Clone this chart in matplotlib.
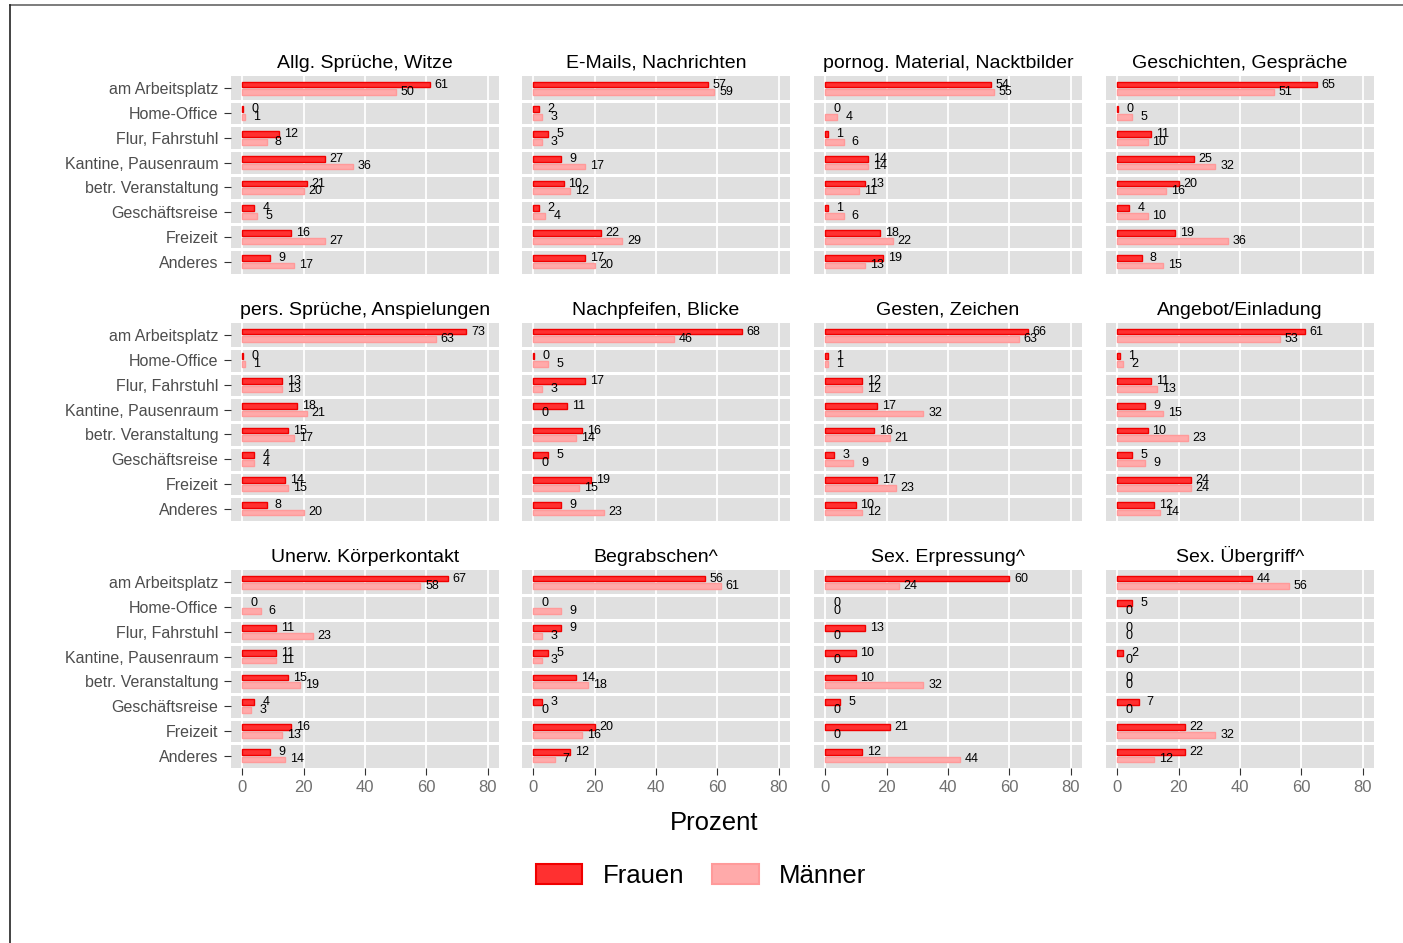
"""Belästigung nach Ort: 12 Facetten, Frauen vs. Männer (Prozent)."""

import matplotlib

matplotlib.use("Agg")
import matplotlib.pyplot as plt
import numpy as np
from matplotlib.lines import Line2D
from matplotlib.patches import Patch

plt.rcParams["font.family"] = ["Liberation Sans", "DejaVu Sans"]

orte = ["am Arbeitsplatz", "Home-Office", "Flur, Fahrstuhl", "Kantine, Pausenraum",
        "betr. Veranstaltung", "Geschäftsreise", "Freizeit", "Anderes"]

titel = ["Allg. Sprüche, Witze", "E-Mails, Nachrichten", "pornog. Material, Nacktbilder",
         "Geschichten, Gespräche", "pers. Sprüche, Anspielungen", "Nachpfeifen, Blicke",
         "Gesten, Zeichen", "Angebot/Einladung", "Unerw. Körperkontakt", "Begrabschen^",
         "Sex. Erpressung^", "Sex. Übergriff^"]

# Werte < 0.5 werden als "0" beschriftet, zeigen aber einen schmalen Balken
frauen = [
    [61, 0.4, 12, 27, 21, 4, 16, 9],
    [57, 2, 5, 9, 10, 2, 22, 17],
    [54, 0, 1, 14, 13, 1, 18, 19],
    [65, 0.4, 11, 25, 20, 4, 19, 8],
    [73, 0.4, 13, 18, 15, 4, 14, 8],
    [68, 0.4, 17, 11, 16, 5, 19, 9],
    [66, 1, 12, 17, 16, 3, 17, 10],
    [61, 1, 11, 9, 10, 5, 24, 12],
    [67, 0, 11, 11, 15, 4, 16, 9],
    [56, 0, 9, 5, 14, 3, 20, 12],
    [60, 0, 13, 10, 10, 5, 21, 12],
    [44, 5, 0, 2, 0, 7, 22, 22],
]

maenner = [
    [50, 1, 8, 36, 20, 5, 27, 17],
    [59, 3, 3, 17, 12, 4, 29, 20],
    [55, 4, 6, 14, 11, 6, 22, 13],
    [51, 5, 10, 32, 16, 10, 36, 15],
    [63, 1, 13, 21, 17, 4, 15, 20],
    [46, 5, 3, 0, 14, 0, 15, 23],
    [63, 1, 12, 32, 21, 9, 23, 12],
    [53, 2, 13, 15, 23, 9, 24, 14],
    [58, 6, 23, 11, 19, 3, 13, 14],
    [61, 9, 3, 3, 18, 0, 16, 7],
    [24, 0, 0, 0, 32, 0, 0, 44],
    [56, 0, 0, 0, 0, 0, 32, 12],
]

x_ticks = [0, 20, 40, 60, 80]

W, H = 1403, 943
F_FILL, F_EDGE = "#ff3030", "#f00000"
M_FILL, M_EDGE = "#ffaaaa", "#ff9a9a"
BG = "#e0e0e0"

col_x = [231, 522, 814, 1106]
row_y = [76, 323, 570]
pw, ph = 268, 198


def draw_panel(ax, title, f_vals, m_vals, first_col, last_row):
    y = np.arange(len(orte))
    off, h = 0.155, 0.23
    ax.set_facecolor(BG)
    for s in ax.spines.values():
        s.set_visible(False)
    ax.set_xlim(-3.6, 83.6)
    ax.set_ylim(len(orte) - 0.5, -0.5)
    for xv in x_ticks:
        ax.axvline(xv, color="white", lw=1.3, zorder=1)
    for b in np.arange(0.5, len(orte) - 0.5, 1):
        ax.axhline(b, color="white", lw=2.2, zorder=3)
    f_lw = [1.0 if v > 0 else 0 for v in f_vals]
    m_lw = [1.0 if v > 0 else 0 for v in m_vals]
    ax.barh(y - off, f_vals, height=h, color=F_FILL, edgecolor=F_EDGE, lw=f_lw, zorder=2)
    ax.barh(y + off, m_vals, height=h, color=M_FILL, edgecolor=M_EDGE, lw=m_lw, zorder=2)
    # Beschriftungen überlappen bei ähnlichen Werten wie im Original
    for i, (fv, mv) in enumerate(zip(f_vals, m_vals)):
        ax.text(fv + 3.8, i - off, f"{fv:.0f}", ha="center", va="center", fontsize=9, zorder=4)
        ax.text(mv + 3.8, i + off, f"{mv:.0f}", ha="center", va="center", fontsize=9, zorder=4)
    ax.set_title(title, fontsize=14, pad=6)
    ax.set_yticks(y)
    if first_col:
        ax.set_yticklabels(orte, fontsize=11.5, color="#4d4d4d")
        ax.tick_params(axis="y", length=5, width=0.8, color="#333333", pad=4)
    else:
        ax.set_yticklabels([])
        ax.tick_params(axis="y", length=0)
    ax.set_xticks(x_ticks)
    if last_row:
        ax.set_xticklabels([str(v) for v in x_ticks], fontsize=12, color="#707070")
        ax.tick_params(axis="x", length=5, width=0.8, color="#333333", pad=4)
    else:
        ax.set_xticklabels([])
        ax.tick_params(axis="x", length=0)


def main():
    fig = plt.figure(figsize=(W / 100, H / 100), dpi=100)
    for k in range(len(titel)):
        r, c = divmod(k, 4)
        ax = fig.add_axes([col_x[c] / W, 1 - (row_y[r] + ph) / H, pw / W, ph / H])
        draw_panel(ax, titel[k], frauen[k], maenner[k], c == 0, r == 2)

    fig.text(714 / W, 1 - 823 / H, "Prozent", ha="center", va="center", fontsize=18.5)

    handles = [Patch(facecolor=F_FILL, edgecolor=F_EDGE, lw=1.5, label="Frauen"),
               Patch(facecolor=M_FILL, edgecolor=M_EDGE, lw=1.5, label="Männer")]
    fig.legend(handles=handles, loc="center", bbox_to_anchor=(701 / W, 1 - 876 / H),
               ncol=2, frameon=False, fontsize=18.5, handlelength=1.8, handleheight=0.8,
               handletextpad=0.8, columnspacing=1.1)

    # Rahmen oben und links
    fig.add_artist(Line2D([10 / W, 1], [1 - 5 / H, 1 - 5 / H], transform=fig.transFigure,
                          color="#666666", lw=1.2))
    fig.add_artist(Line2D([10 / W, 10 / W], [0, 1 - 5 / H], transform=fig.transFigure,
                          color="#222222", lw=1.2))

    fig.savefig("out.png", dpi=100)
    plt.close(fig)


if __name__ == "__main__":
    main()
